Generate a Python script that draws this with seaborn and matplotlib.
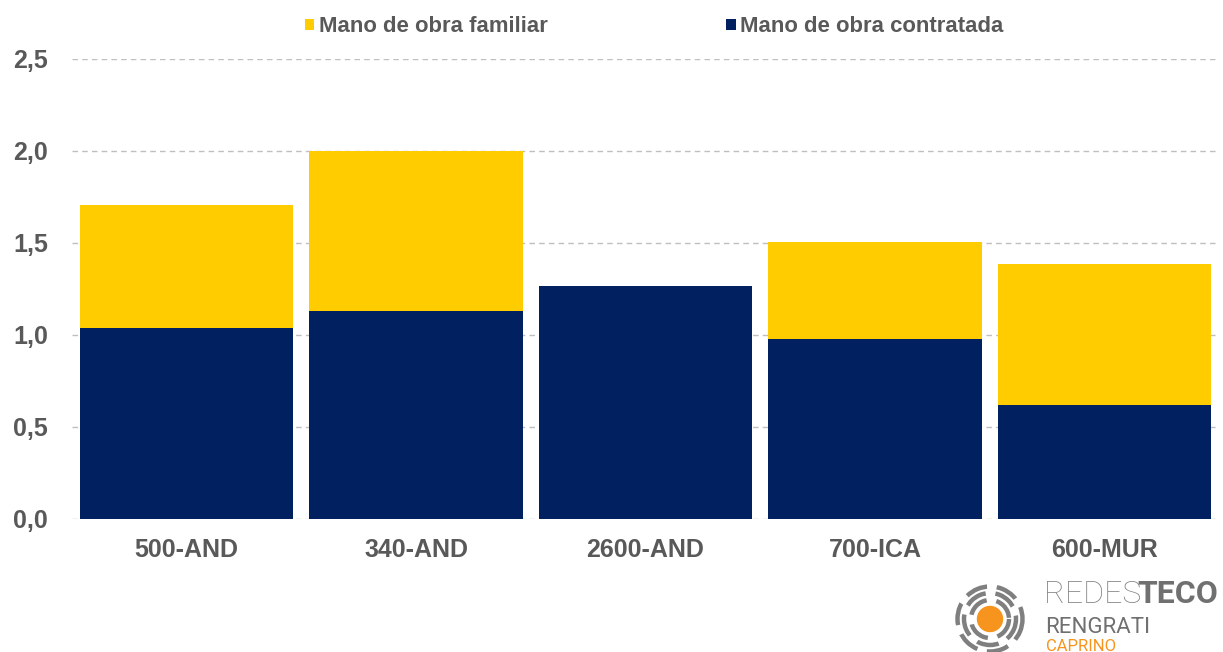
import matplotlib
matplotlib.use("Agg")
import matplotlib.pyplot as plt
import seaborn as sns
import pandas as pd
import numpy as np
from matplotlib.patches import Patch, Circle, Arc
from matplotlib.ticker import FuncFormatter

categories = ["500-AND", "340-AND", "2600-AND", "700-ICA", "600-MUR"]
contratada = [1.04, 1.13, 1.265, 0.98, 0.62]
familiar = [0.665, 0.87, 0.0, 0.525, 0.765]
series_names = ["Mano de obra familiar", "Mano de obra contratada"]

NAVY = "#002060"
YELLOW = "#FFCC00"
GRAY = "#595959"

sns.set_theme(style="white")
plt.rcParams['font.family'] = ['Liberation Sans', 'DejaVu Sans']

df = pd.DataFrame({"cat": categories, "contratada": contratada,
                   "total": np.array(contratada) + np.array(familiar)})

fig = plt.figure(figsize=(12.23, 6.52), dpi=100)
ax = fig.add_axes([71.75 / 1223, 1 - 519 / 652, (1219.25 - 71.75) / 1223, (519 - 59) / 652])

sns.barplot(data=df, x="cat", y="total", color=YELLOW, width=0.93, ax=ax,
            saturation=1, zorder=3, linewidth=0)
sns.barplot(data=df, x="cat", y="contratada", color=NAVY, width=0.93, ax=ax,
            saturation=1, zorder=3, linewidth=0)

ax.set_ylim(0, 2.5)
ax.set_xlim(-0.5, 4.5)
ax.set_yticks([0, 0.5, 1.0, 1.5, 2.0, 2.5])
ax.yaxis.set_major_formatter(FuncFormatter(lambda v, p: f"{v:.1f}".replace(".", ",")))
ax.grid(axis="y", color="#BFBFBF", linestyle=(0, (4, 3)), linewidth=1.0, zorder=0)
ax.grid(axis="x", visible=False)
for s in ax.spines.values():
    s.set_visible(False)
ax.set_xlabel("")
ax.set_ylabel("")
ax.tick_params(axis="both", length=0, labelsize=18, labelcolor=GRAY)
ax.tick_params(axis="y", pad=17)
ax.tick_params(axis="x", pad=14)
for lbl in ax.get_xticklabels() + ax.get_yticklabels():
    lbl.set_fontweight("bold")

handles = [Patch(facecolor=YELLOW, edgecolor="none"), Patch(facecolor=NAVY, edgecolor="none")]
leg = fig.legend(handles, series_names, loc="center left", bbox_to_anchor=(305 / 1223, 1 - 27 / 652),
                 ncol=2, frameon=False, handlelength=0.42, handleheight=0.42,
                 handletextpad=0.2, columnspacing=8.1, borderpad=0, borderaxespad=0,
                 prop={"weight": "bold", "size": 15.9})
for t in leg.get_texts():
    t.set_color(GRAY)

# Logo
lax = fig.add_axes([940 / 1223, 0, 283 / 1223, 82 / 652])
lax.set_xlim(940, 1223)
lax.set_ylim(652, 570)
lax.set_aspect("equal")
lax.axis("off")
cx, cy = 990, 619
lax.add_patch(Circle((cx, cy), 12.5, color="#F7941D", zorder=3))
for r in [19, 26, 32.5]:
    lax.add_patch(Arc((cx, cy), 2 * r, 2 * r, theta1=0, theta2=360, color="#7F7F7F",
                      linewidth=3.2, linestyle=(0, (5, 2.2))))
lax.text(1044, 603, "REDES", fontsize=23, color="#858585", family="Roboto",
         fontweight="light", va="baseline", ha="left")
lax.text(1044 + 93, 603, "TECO", fontsize=23, color="#707070", family="Roboto",
         fontweight="bold", va="baseline", ha="left")
lax.text(1045, 633, "RENGRATI", fontsize=16, color="#707070", family="Roboto",
         fontweight="normal", va="baseline", ha="left")
lax.text(1046, 651, "CAPRINO", fontsize=12, color="#F7941D", family="Roboto",
         fontweight="normal", va="baseline", ha="left")

fig.savefig("out.png", dpi=100, facecolor="white")
